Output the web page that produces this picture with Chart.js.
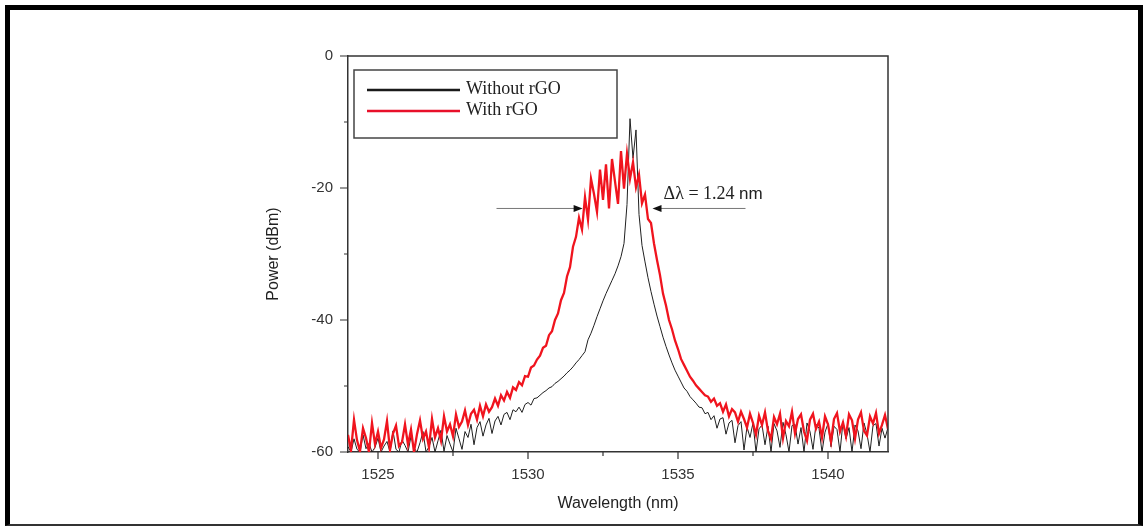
<!DOCTYPE html>
<html>
<head>
<meta charset="utf-8">
<script src="https://cdn.jsdelivr.net/npm/chart.js@4.4.1/dist/chart.umd.min.js"></script>
<style>
  html, body { margin: 0; padding: 0; background: #fff; }
  #wrap { position: relative; width: 1143px; height: 527px; overflow: hidden; }
  #frame { position: absolute; left: 5px; top: 5px; width: 1128px; height: 514px;
           border-left: 5px solid #000; border-top: 5px solid #000;
           border-right: 5px solid #000; border-bottom: 2px solid #333; }
  canvas { position: absolute; left: 0; top: 0; }
</style>
</head>
<body>
<div id="wrap">
  <canvas id="myChart" width="1143" height="527"></canvas>
  <div id="frame"></div>
</div>
<script>
/* spectrum sampled every 0.1 nm from 1524.0 nm */
const wlStart = 1524.0;
const wlStep = 0.1;

const seriesLabels = ['Without rGO', 'With rGO'];

// With rGO (dBm), one row per nm
const withRgo = [
  -57.4, -59.8, -55.1, -58.2, -59.9, -56.4, -57.9, -60.0, -55.6, -58.8, // 1524
  -56.9, -59.4, -58.1, -55.3, -59.7, -57.2, -56.0, -59.1, -58.5, -55.8, // 1525
  -58.9, -56.6, -60.0, -57.3, -55.2, -58.0, -56.9, -59.3, -55.0, -57.8, // 1526
  -56.4, -58.3, -54.6, -56.9, -55.8, -57.6, -54.3, -56.2, -55.4, -53.7, // 1527
  -55.9, -54.2, -53.6, -55.1, -53.0, -54.6, -52.8, -53.9, -53.2, -51.9, // 1528
  -53.0, -51.4, -52.2, -50.9, -51.8, -50.2, -50.6, -49.4, -49.9, -48.5, // 1529
  -48.6, -47.2, -46.9, -46.0, -45.4, -44.2, -43.9, -42.3, -41.7, -40.0, // 1530
  -39.0, -37.0, -35.9, -33.4, -32.0, -28.9, -27.4, -24.5, -26.3, -21.4, // 1531
  -24.8, -18.6, -20.9, -23.6, -17.2, -21.8, -16.4, -23.1, -15.6, -19.0, // 1532
  -22.4, -14.4, -20.1, -14.8, -18.6, -16.1, -19.9, -18.0, -22.3, -21.0, // 1533
  -24.7, -25.3, -28.4, -30.9, -33.2, -36.0, -37.8, -40.0, -41.4, -43.1, // 1534
  -44.4, -45.9, -46.8, -47.7, -48.6, -49.2, -49.9, -50.4, -50.9, -51.4, // 1535
  -51.6, -52.4, -51.9, -53.0, -52.6, -53.9, -52.8, -54.6, -53.5, -54.0, // 1536
  -55.4, -53.9, -55.0, -56.3, -54.2, -55.6, -57.4, -54.5, -55.9, -54.0, // 1537
  -56.8, -58.0, -54.7, -55.8, -54.2, -57.9, -55.3, -56.1, -53.9, -57.2, // 1538
  -55.0, -54.3, -56.9, -58.3, -55.1, -54.2, -56.5, -55.4, -57.8, -54.6, // 1539
  -55.8, -58.4, -55.0, -54.1, -56.9, -55.5, -57.6, -54.3, -55.2, -58.0, // 1540
  -55.1, -54.0, -56.8, -57.5, -54.6, -55.7, -54.1, -57.2, -55.9, -54.4, // 1541
  -56.5                                                                 // 1542
];

// Without rGO (dBm)
const withoutRgo = [
  -59.2, -60.0, -58.0, -59.6, -60.0, -57.4, -59.5, -58.7, -60.0, -59.3, // 1524
  -57.9, -60.0, -59.1, -58.4, -60.0, -56.8, -59.6, -60.0, -58.2, -59.0, // 1525
  -60.0, -57.6, -59.4, -60.0, -58.6, -56.9, -60.0, -59.2, -57.8, -60.0, // 1526
  -58.3, -56.7, -59.9, -57.5, -58.8, -60.0, -56.4, -58.0, -59.6, -56.9, // 1527
  -57.8, -55.8, -58.9, -56.3, -55.4, -57.6, -55.9, -54.9, -57.2, -55.3, // 1528
  -54.6, -55.9, -54.3, -54.0, -55.1, -53.6, -53.9, -53.2, -54.0, -52.8, // 1529
  -52.5, -52.9, -51.9, -51.8, -51.4, -51.0, -50.7, -50.3, -50.1, -49.6, // 1530
  -49.3, -48.9, -48.5, -48.0, -47.6, -47.1, -46.5, -46.0, -45.4, -44.8, // 1531
  -43.0, -42.0, -40.8, -39.5, -38.3, -37.1, -36.0, -35.0, -34.0, -33.0, // 1532
  -31.8, -30.4, -28.4, -22.5, -9.5, -15.5, -11.2, -24.0, -28.7, -31.2,  // 1533
  -33.6, -35.7, -37.6, -39.4, -41.0, -42.6, -44.0, -45.3, -46.5, -47.6, // 1534
  -48.5, -49.4, -50.3, -50.8, -51.6, -52.1, -52.6, -53.2, -53.3, -54.2, // 1535
  -54.0, -55.1, -54.5, -56.4, -55.0, -54.8, -57.3, -55.6, -55.2, -58.6, // 1536
  -56.0, -55.4, -59.7, -56.2, -57.8, -55.6, -60.0, -56.5, -55.9, -58.9, // 1537
  -56.1, -60.0, -55.7, -56.8, -59.3, -55.5, -57.4, -60.0, -56.0, -55.8, // 1538
  -58.8, -56.3, -60.0, -55.6, -56.9, -59.6, -55.8, -56.4, -60.0, -57.0, // 1539
  -55.7, -59.2, -56.1, -56.6, -60.0, -55.4, -58.0, -56.3, -60.0, -55.9, // 1540
  -56.8, -59.5, -55.6, -57.3, -60.0, -56.0, -55.7, -59.1, -56.4, -57.9, // 1541
  -56.3                                                                 // 1542
];

const xTicks = [1525, 1530, 1535, 1540];
const xMinorTicks = [1527.5, 1532.5, 1537.5];
const yTicks = [0, -20, -40, -60];
const yMinorTicks = [-10, -30, -50];

const toPoints = arr => arr.map((v, i) => ({ x: +(wlStart + i * wlStep).toFixed(1), y: v }));

// FWHM annotation, in data units
const fwhm = {
  text: '\u0394\u03bb = 1.24 ', unit: 'nm',
  textX: 1534.52, textY: -21.6,
  leftFrom: 1528.95, leftTo: 1531.82,
  rightFrom: 1537.25, rightTo: 1534.15,
  arrowY: -23.1
};

const axisColor = '#333';

/* draws frame, tick marks, legend box and the FWHM arrows */
const extrasPlugin = {
  id: 'extras',
  afterDatasetsDraw(chart) {
    const ctx = chart.ctx;
    const a = chart.chartArea;
    const xs = chart.scales.x, ys = chart.scales.y;
    ctx.save();

    // top/right frame lines
    ctx.strokeStyle = axisColor;
    ctx.lineWidth = 1.5;
    ctx.beginPath();
    ctx.moveTo(a.left, a.top); ctx.lineTo(a.right, a.top); ctx.lineTo(a.right, a.bottom);
    ctx.stroke();

    // tick marks
    ctx.lineWidth = 1.2;
    ctx.beginPath();
    xTicks.forEach(v => { const p = xs.getPixelForValue(v); ctx.moveTo(p, a.bottom); ctx.lineTo(p, a.bottom + 7); });
    xMinorTicks.forEach(v => { const p = xs.getPixelForValue(v); ctx.moveTo(p, a.bottom); ctx.lineTo(p, a.bottom + 4); });
    yTicks.forEach(v => { const p = ys.getPixelForValue(v); ctx.moveTo(a.left, p); ctx.lineTo(a.left - 8, p); });
    yMinorTicks.forEach(v => { const p = ys.getPixelForValue(v); ctx.moveTo(a.left, p); ctx.lineTo(a.left - 4, p); });
    ctx.stroke();

    // legend box
    const bx = a.left + 6, by = a.top + 14, bw = 263, bh = 68;
    ctx.strokeStyle = '#444';
    ctx.lineWidth = 1.5;
    ctx.strokeRect(bx, by, bw, bh);
    const colors = ['#1a1a1a', '#e8102a'];
    ctx.font = '18px "Liberation Serif", "Times New Roman", serif';
    ctx.textBaseline = 'middle';
    seriesLabels.forEach((lab, i) => {
      const ly = by + 20 + i * 21;
      ctx.strokeStyle = colors[i];
      ctx.lineWidth = 2.5;
      ctx.beginPath(); ctx.moveTo(bx + 13, ly); ctx.lineTo(bx + 106, ly); ctx.stroke();
      ctx.fillStyle = '#222';
      ctx.fillText(lab, bx + 112, ly - 1);
    });

    // FWHM arrows
    const ay = ys.getPixelForValue(fwhm.arrowY);
    const drawArrow = (from, to) => {
      const x0 = xs.getPixelForValue(from), x1 = xs.getPixelForValue(to);
      const dir = Math.sign(x1 - x0);
      ctx.strokeStyle = '#777';
      ctx.lineWidth = 1;
      ctx.beginPath(); ctx.moveTo(x0, ay); ctx.lineTo(x1 - dir * 6, ay); ctx.stroke();
      ctx.fillStyle = '#111';
      ctx.beginPath();
      ctx.moveTo(x1, ay); ctx.lineTo(x1 - dir * 9, ay - 3.5); ctx.lineTo(x1 - dir * 9, ay + 3.5);
      ctx.closePath(); ctx.fill();
    };
    drawArrow(fwhm.leftFrom, fwhm.leftTo);
    drawArrow(fwhm.rightFrom, fwhm.rightTo);

    // FWHM text
    const tx = xs.getPixelForValue(fwhm.textX), ty = ys.getPixelForValue(fwhm.textY);
    ctx.textBaseline = 'alphabetic';
    ctx.fillStyle = '#222';
    ctx.font = '18px "Liberation Serif", "Times New Roman", serif';
    ctx.fillText(fwhm.text, tx, ty);
    const w = ctx.measureText(fwhm.text).width;
    ctx.font = '17px "Liberation Sans", Arial, sans-serif';
    ctx.fillText(fwhm.unit, tx + w, ty);

    ctx.restore();
  }
};

const config = {
  type: 'line',
  data: {
    datasets: [{
      label: seriesLabels[1],
      data: toPoints(withRgo),
      borderColor: '#f0141e',
      borderWidth: 2.3,
      pointRadius: 0,
      tension: 0
    }, {
      label: seriesLabels[0],
      data: toPoints(withoutRgo),
      borderColor: '#202020',
      borderWidth: 1,
      pointRadius: 0,
      tension: 0
    }]
  },
  options: {
    responsive: false,
    animation: false,
    devicePixelRatio: 1,
    layout: { padding: { left: 262, right: 255, top: 56, bottom: 14 } },
    plugins: { legend: { display: false }, tooltip: { enabled: false } },
    scales: {
      x: {
        type: 'linear',
        min: 1524, max: 1542,
        afterBuildTicks: s => { s.ticks = xTicks.map(v => ({ value: v })); },
        afterFit: s => { s.height = 61; },
        grid: { display: false },
        border: { display: true, color: axisColor, width: 1.5 },
        ticks: { color: '#333', padding: 6, maxRotation: 0, callback: v => String(v),
                 font: { family: '"Liberation Sans", Arial, sans-serif', size: 15 } },
        title: { display: true, text: 'Wavelength (nm)', color: '#222', padding: { top: 4, bottom: 0 },
                 font: { family: '"Liberation Sans", Arial, sans-serif', size: 16 } }
      },
      y: {
        min: -60, max: 0,
        afterBuildTicks: s => { s.ticks = yTicks.map(v => ({ value: v })); },
        afterFit: s => { s.width = 86; },
        grid: { display: false },
        border: { display: true, color: axisColor, width: 1.5 },
        ticks: { color: '#333', padding: 7, callback: v => String(v),
                 font: { family: '"Liberation Sans", Arial, sans-serif', size: 15 } },
        title: { display: true, text: 'Power (dBm)', color: '#222', padding: 2,
                 font: { family: '"Liberation Sans", Arial, sans-serif', size: 16 } }
      }
    }
  },
  plugins: [extrasPlugin]
};

let myChart = new Chart(document.getElementById('myChart').getContext('2d'), config);
</script>
</body>
</html>
